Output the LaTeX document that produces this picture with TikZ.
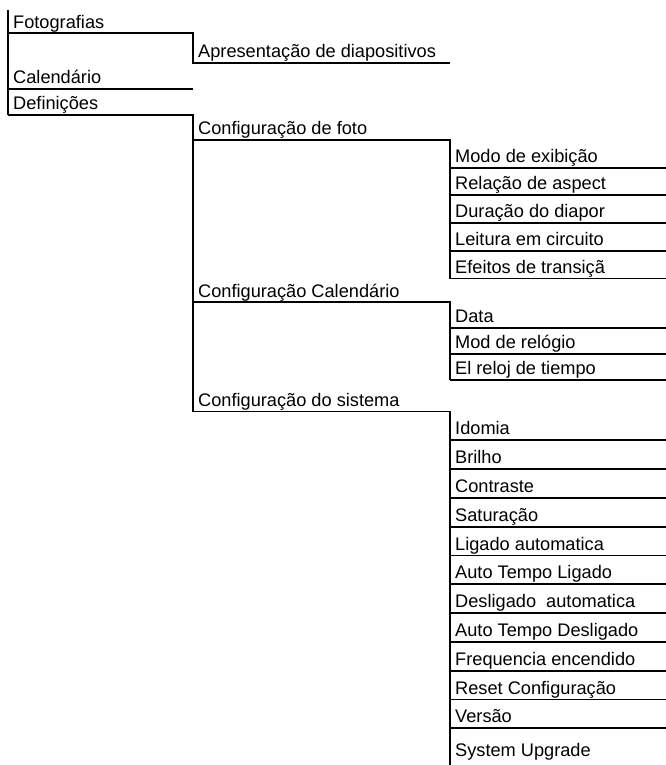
\documentclass[tikz,border=0pt]{standalone}
\usepackage{fontspec}
\setmainfont{Liberation Sans}
\begin{document}
\begin{tikzpicture}[x=1pt,y=-1pt,
  ln/.style={line width=1.9pt, line join=miter},
  lbl/.style={anchor=base west, inner sep=0pt, font=\fontsize{18.2}{20}\selectfont}]
\useasboundingbox (0,0) rectangle (666,765);
% level 0
\coordinate (t0) at (8,10);
\coordinate (fotL) at (8,33);   \coordinate (fotR) at (193,33);
\coordinate (calL) at (8,89);   \coordinate (calR) at (193,89);
\coordinate (defL) at (8,115);  \coordinate (defR) at (193,115);
\node[lbl] (fot) at (13,28.5) {Fotografias};
\node[lbl] (cal) at (13,84) {Calendário};
\node[lbl] (def) at (13,110) {Definições};
\draw[ln] (t0) -- (defL);
% level 1
\coordinate (aprL) at (193,63);  \coordinate (aprR) at (450,63);
\coordinate (cfL) at (193,140);  \coordinate (cfR) at (450,140);
\coordinate (ccL) at (193,302);  \coordinate (ccR) at (450,302);
\coordinate (csL) at (193,411.5);  \coordinate (csR) at (450,411.5);
\node[lbl] (apr) at (198,58) {Apresentação de diapositivos};
\node[lbl] (cfoto) at (198,135) {Configuração de foto};
\node[lbl] (ccal) at (198,297) {Configuração Calendário};
\node[lbl] (csis) at (198,406.5) {Configuração do sistema};
\draw[ln] (fotL) -- (fotR) -- (aprL) -- (aprR);
\draw[ln] (calL) -- (calR);
\draw[ln] (defL) -- (defR) -- (csL);
% level 2: photo
\coordinate (pEnd) at (450,278.5);
\draw[ln] (cfL) -- (cfR) -- (pEnd);
\foreach \t [count=\i] in {{Modo de exibição},{Relação de aspect},{Duração do diapor},{Leitura em circuito},{Efeitos de transiçã}}{
  \node[lbl] (p\i) at (455,140+27.7*\i-5.5) {\t};
  \coordinate (pl\i) at (450,140+27.7*\i);
  \coordinate (pr\i) at (666,140+27.7*\i);
  \draw[ln] (pl\i) -- (pr\i);
}
% level 2: calendar
\coordinate (cEnd) at (450,380);
\draw[ln] (ccL) -- (ccR) -- (cEnd);
\foreach \t [count=\i] in {{Data},{Mod de relógio},{El reloj de tiempo}}{
  \node[lbl] (c\i) at (455,302+26*\i-5.5) {\t};
  \coordinate (cl\i) at (450,302+26*\i);
  \coordinate (cr\i) at (666,302+26*\i);
  \draw[ln] (cl\i) -- (cr\i);
}
% level 2: system
\coordinate (sEnd) at (450,765);
\draw[ln] (csL) -- (csR) -- (sEnd);
\foreach \t [count=\i] in {{Idomia},{Brilho},{Contraste},{Saturação},{Ligado automatica},{Auto Tempo Ligado},{Desligado\ \ automatica},{Auto Tempo Desligado},{Frequencia encendido},{Reset Configuração},{Versão}}{
  \node[lbl] (s\i) at (455,411.5+28.8*\i-5.5) {\t};
  \coordinate (sl\i) at (450,411.5+28.8*\i);
  \coordinate (sr\i) at (666,411.5+28.8*\i);
  \draw[ln] (sl\i) -- (sr\i);
}
\node[lbl] (s12) at (455,756) {System Upgrade};
\end{tikzpicture}
\end{document}
